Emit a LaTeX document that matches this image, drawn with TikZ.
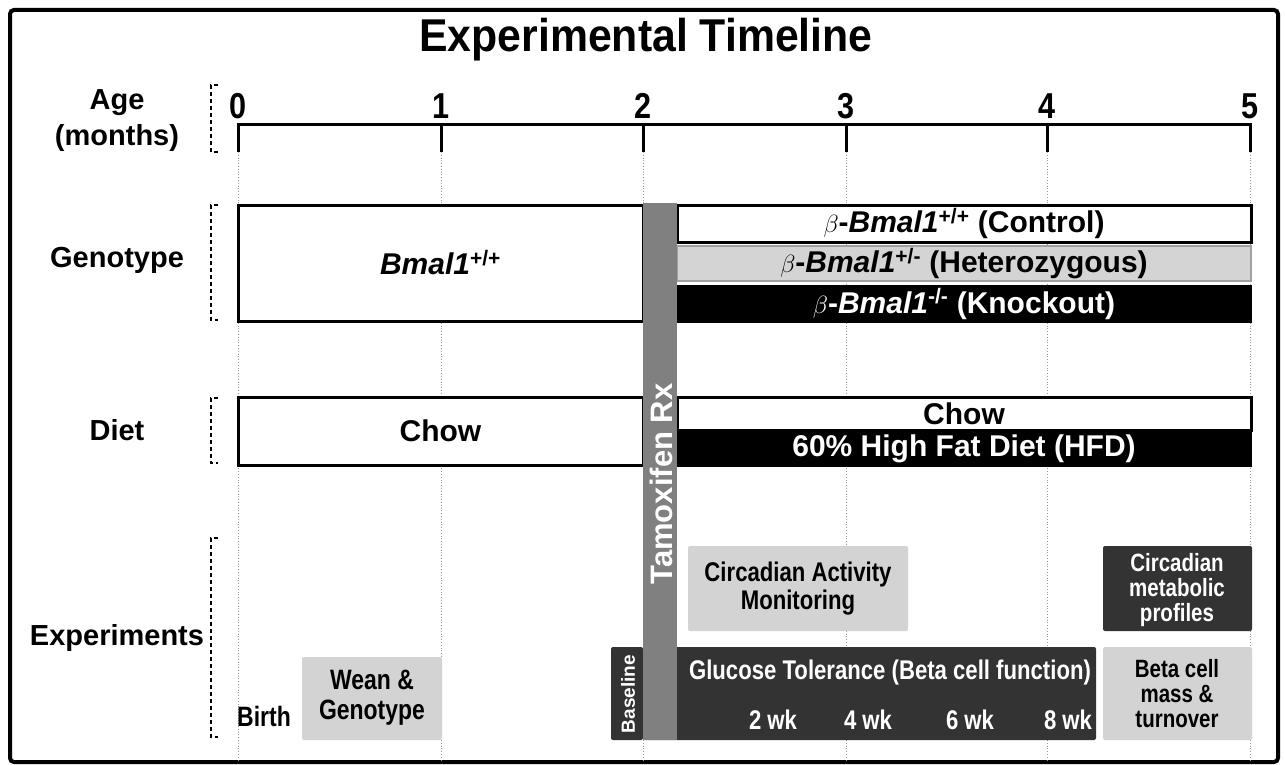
\documentclass[tikz,border=0pt]{standalone}
\usepackage{fontspec}
\setmainfont{Liberation Sans}
\newfontfamily\condfont[FakeStretch=0.82]{Liberation Sans}
\newfontfamily\titlefont[FakeStretch=0.93]{Liberation Sans}
\newfontfamily\numfont[FakeStretch=0.85]{Liberation Sans}
\usepackage{xcolor}
\usepackage{tikz}
\definecolor{lightbox}{RGB}{211,211,211}
\definecolor{darkbox}{RGB}{51,51,51}
\definecolor{tamoxgray}{RGB}{128,128,128}
\definecolor{hetgray}{RGB}{212,212,212}
\definecolor{hetline}{RGB}{160,160,160}

\begin{document}
\begin{tikzpicture}[x=1pt,y=-1pt]
        \tikzstyle{every node}+=[inner sep=0pt]
        \tikzstyle{rowlabel}=[font=\bfseries\fontsize{29}{32}\selectfont]
        \tikzstyle{agenum}=[font=\numfont\bfseries\fontsize{36}{38}\selectfont, anchor=south]
        \tikzstyle{bracket}=[black, line width=1.2pt, dash pattern=on 4pt off 3pt]
        \tikzstyle{guide}=[black!40, line width=0.8pt, dotted]
        \tikzstyle{openbox}=[draw=black, fill=white, line width=3pt, font=\bfseries\fontsize{30}{32}\selectfont]
        \tikzstyle{hetbox}=[draw=hetline, fill=hetgray, line width=2pt, font=\bfseries\fontsize{30}{32}\selectfont]
        \tikzstyle{blackbox}=[draw=black, fill=black, text=white, line width=2pt, font=\bfseries\fontsize{30}{32}\selectfont]
        \tikzstyle{lightexp}=[fill=lightbox, rounded corners=2pt]
        \tikzstyle{darkexp}=[fill=darkbox, rounded corners=2pt]
        \tikzstyle{condtext}=[font=\condfont\bfseries\fontsize{27}{28}\selectfont, align=center]
        \useasboundingbox (0,0) rectangle (1285,765);
        % frame and title
        \draw [black, line width=4pt, rounded corners=4pt] (10,10) rectangle (1278,762);
        \node [font=\titlefont\bfseries\fontsize{46}{48}\selectfont] (title) at (646,40) {Experimental Timeline};
        % month ticks
        \coordinate (m0) at (238,125);
        \coordinate (m1) at (441,125);
        \coordinate (m2) at (643,125);
        \coordinate (m3) at (846,125);
        \coordinate (m4) at (1047,125);
        \coordinate (m5) at (1250,125);
        \coordinate (bottomline) at (0,762);
        \draw [guide] (m0) ++(0,27) -- (m0 |- bottomline);
        \draw [guide] (m1) ++(0,27) -- (m1 |- bottomline);
        \draw [guide] (m2) ++(0,27) -- (m2 |- bottomline);
        \draw [guide] (m3) ++(0,27) -- (m3 |- bottomline);
        \draw [guide] (m4) ++(0,27) -- (m4 |- bottomline);
        \draw [guide] (m5) ++(0,27) -- (m5 |- bottomline);
        \draw [black, line width=3pt] (m0) ++(0,27) -- (m0) -- (m5) -- ++(0,27);
        \draw [black, line width=3pt] (m1) -- ++(0,27);
        \draw [black, line width=3pt] (m2) -- ++(0,27);
        \draw [black, line width=3pt] (m3) -- ++(0,27);
        \draw [black, line width=3pt] (m4) -- ++(0,27);
        \node [agenum] (n0) at (238,119) {0};
        \node [agenum] (n1) at (441,119) {1};
        \node [agenum] (n2) at (643,119) {2};
        \node [agenum] (n3) at (846,119) {3};
        \node [agenum] (n4) at (1047,119) {4};
        \node [agenum] (n5) at (1250,119) {5};
        % row labels and brackets
        \node [rowlabel] (agelbl) at (117,103) {Age};
        \node [rowlabel] (monthlbl) at (117,138) {(months)};
        \node [rowlabel] (genolbl) at (117,260) {Genotype};
        \node [rowlabel] (dietlbl) at (117,430) {Diet};
        \node [rowlabel] (explbl) at (117,638) {Experiments};
        \draw [bracket] (218,85) -- (211,85) -- (211,152) -- (218,152);
        \draw [bracket] (218,205) -- (211,205) -- (211,320) -- (218,320);
        \draw [bracket] (218,398) -- (211,398) -- (211,463) -- (218,463);
        \draw [bracket] (218,538) -- (211,538) -- (211,737) -- (218,737);
        % genotype
        \node [openbox, minimum width=405pt, minimum height=116pt] (geno0) at (440.5,263) {\textit{Bmal1}\textsuperscript{+/+}};
        \node [openbox, minimum width=574pt, minimum height=37pt] (genoctrl) at (964,223.5) {$\beta$-\textit{Bmal1}\textsuperscript{+/+} (Control)};
        \node [hetbox, minimum width=574pt, minimum height=35pt] (genohet) at (964,263.5) {$\beta$-\textit{Bmal1}\textsuperscript{+/-} (Heterozygous)};
        \node [blackbox, minimum width=574pt, minimum height=36pt] (genoko) at (964,304) {$\beta$-\textit{Bmal1}\textsuperscript{-/-} (Knockout)};
        % diet
        \node [openbox, minimum width=405pt, minimum height=68pt] (diet0) at (440.5,431) {Chow};
        \node [openbox, minimum width=574pt, minimum height=33pt] (dietchow) at (964,413.5) {Chow};
        \node [blackbox, minimum width=574pt, minimum height=35pt] (diethfd) at (964,448.5) {60\% High Fat Diet (HFD)};
        % experiments
        \node [lightexp, minimum width=220pt, minimum height=85pt] (activity) at (798,588.5) {};
        \node [condtext] (activitylbl) at (798,589) {Circadian Activity\\Monitoring};
        \node [darkexp, minimum width=149pt, minimum height=85pt] (metab) at (1177.5,588.5) {};
        \node [condtext, text=white, font=\condfont\bfseries\fontsize{25}{25}\selectfont] (metablbl) at (1177,590) {Circadian\\metabolic\\profiles};
        \node [darkexp, minimum width=453pt, minimum height=93pt] (gtt) at (869.5,693.5) {};
        \node [condtext, text=white] (gttlbl) at (890,673) {Glucose Tolerance (Beta cell function)};
        \node [condtext, text=white] (wk2) at (773,720) {2 wk};
        \node [condtext, text=white] (wk4) at (868,720) {4 wk};
        \node [condtext, text=white] (wk6) at (970,720) {6 wk};
        \node [condtext, text=white] (wk8) at (1068,720) {8 wk};
        \node [darkexp, minimum width=32pt, minimum height=93pt] (base) at (627,693.5) {};
        \node [rotate=90, text=white, font=\bfseries\fontsize{19}{20}\selectfont] (baselbl) at (628,694) {Baseline};
        \node [lightexp, minimum width=149pt, minimum height=93pt] (betamass) at (1177.5,693.5) {};
        \node [condtext, font=\condfont\bfseries\fontsize{25}{25}\selectfont] (betamasslbl) at (1177,694) {Beta cell\\mass \&\\turnover};
        \node [lightexp, minimum width=140pt, minimum height=83pt] (wean) at (372,698.5) {};
        \node [condtext, font=\condfont\bfseries\fontsize{28}{30}\selectfont] (weanlbl) at (372,698) {Wean \&\\Genotype};
        \node [condtext, font=\condfont\bfseries\fontsize{28}{30}\selectfont] (birth) at (264,716) {Birth};
        % tamoxifen treatment
        \node [fill=tamoxgray, minimum width=34pt, minimum height=537pt] (tamox) at (660,471.5) {};
        \node [rotate=90, text=white, font=\bfseries\fontsize{31}{32}\selectfont] (tamoxlbl) at (661,484) {Tamoxifen Rx};
\end{tikzpicture}
\end{document}
